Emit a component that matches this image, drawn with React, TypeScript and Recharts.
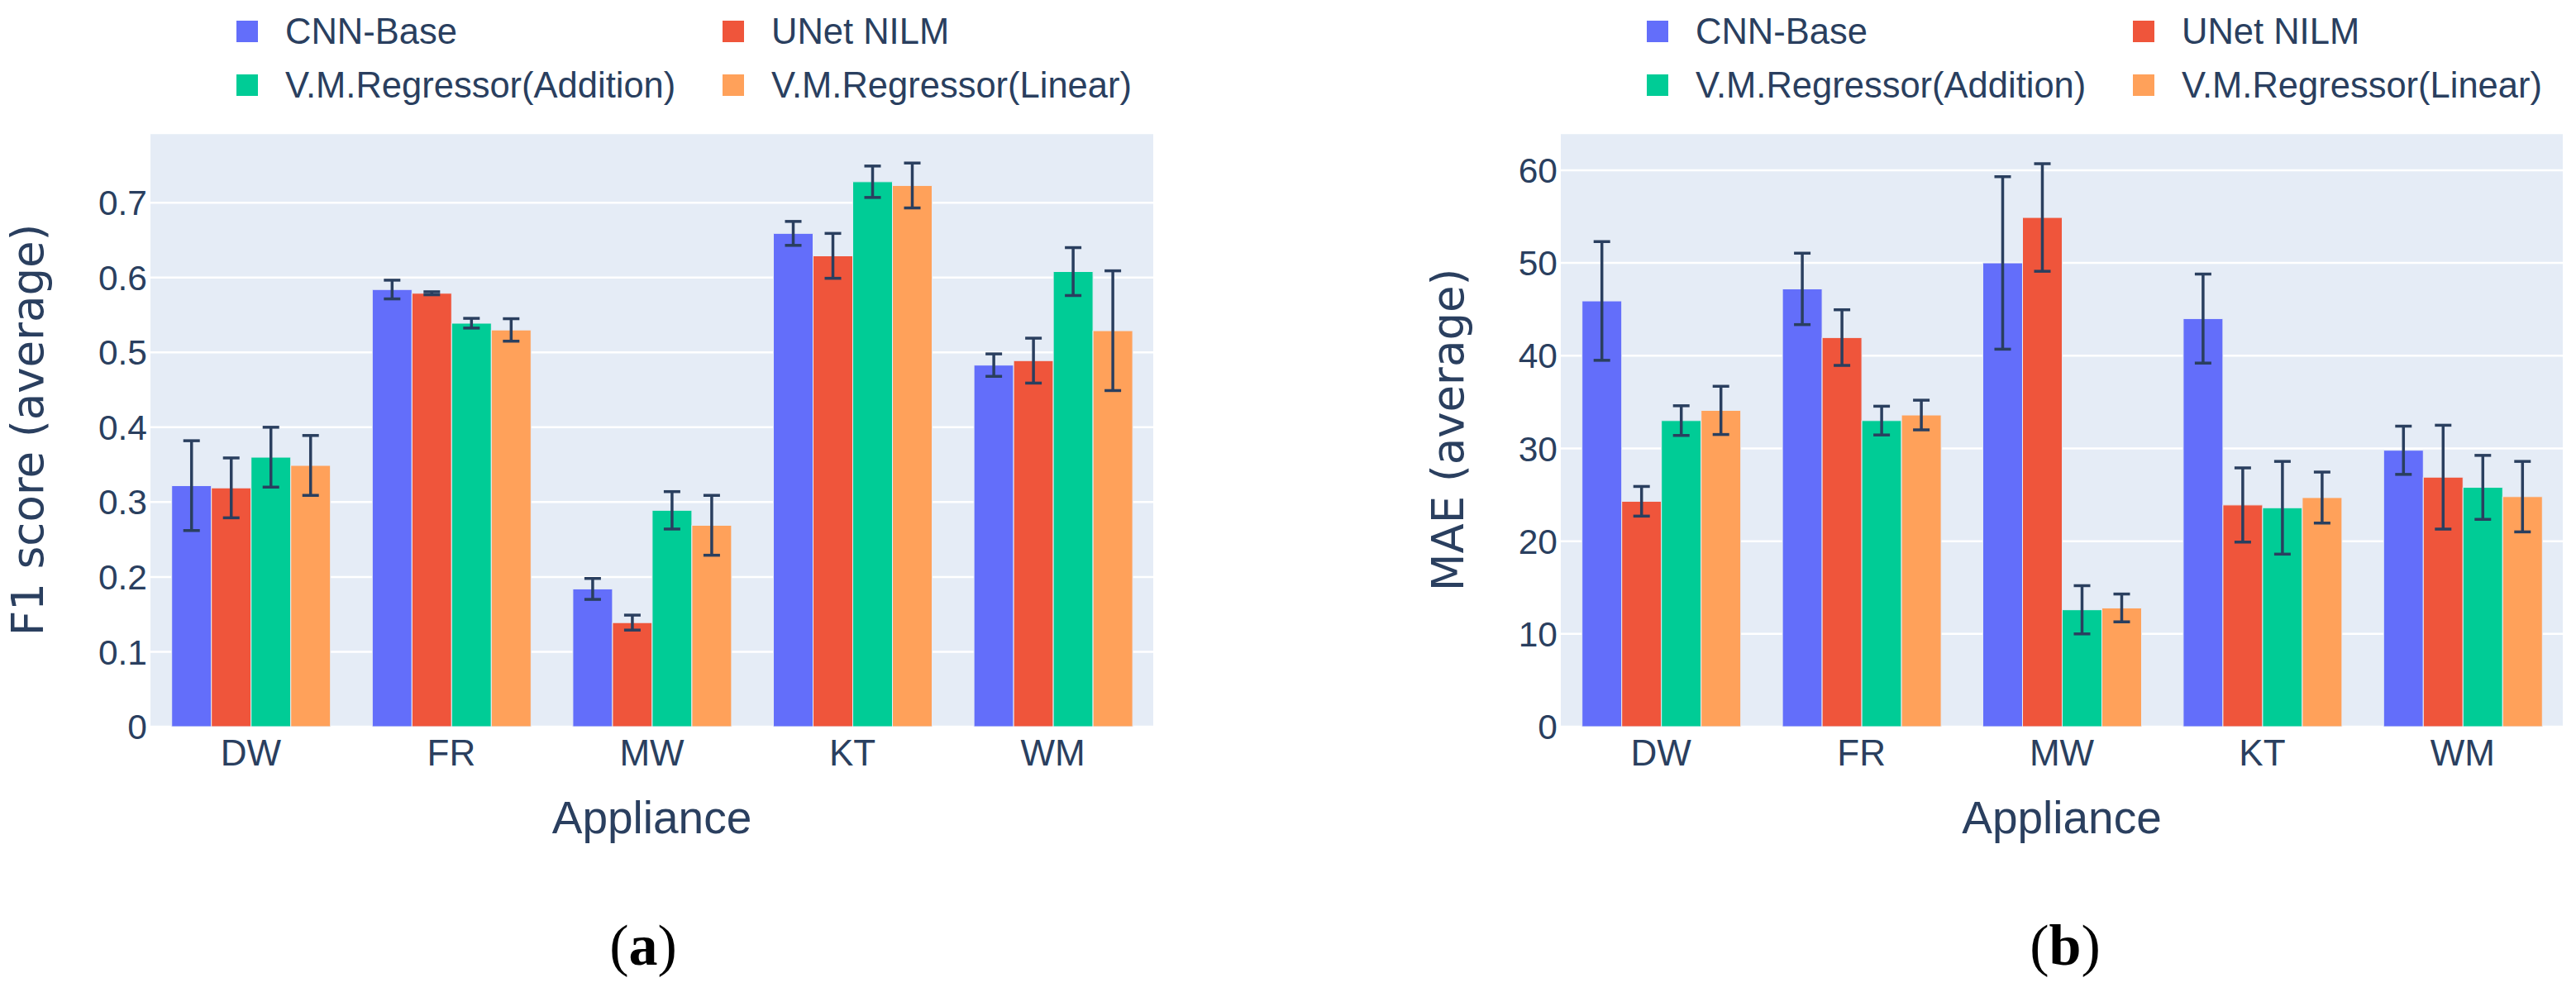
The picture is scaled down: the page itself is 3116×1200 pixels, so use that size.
import React from "react";
import { BarChart, Bar, XAxis, YAxis, CartesianGrid, ErrorBar, Legend } from "recharts";

const appliances = ["DW", "FR", "MW", "KT", "WM"];
const seriesNames = ["CNN-Base", "UNet NILM", "V.M.Regressor(Addition)", "V.M.Regressor(Linear)"];
const seriesColors = ["#636efa", "#ef553b", "#00cc96", "#ffa15a"];

// (a) F1 score
const cnnF1 = [0.322, 0.584, 0.184, 0.659, 0.483];
const cnnF1Err = [0.06, 0.0125, 0.014, 0.016, 0.015];
const unetF1 = [0.319, 0.579, 0.139, 0.629, 0.489];
const unetF1Err = [0.04, 0.002, 0.01, 0.03, 0.03];
const addF1 = [0.36, 0.539, 0.289, 0.728, 0.608];
const addF1Err = [0.04, 0.0065, 0.025, 0.021, 0.032];
const linF1 = [0.349, 0.53, 0.269, 0.723, 0.529];
const linF1Err = [0.04, 0.015, 0.04, 0.03, 0.08];
const f1Ticks = [0, 0.1, 0.2, 0.3, 0.4, 0.5, 0.6, 0.7];

// (b) MAE
const cnnMae = [45.9, 47.2, 50.0, 44.0, 29.8];
const cnnMaeErr = [6.4, 3.85, 9.3, 4.8, 2.6];
const unetMae = [24.3, 41.95, 54.9, 23.9, 26.9];
const unetMaeErr = [1.6, 3.0, 5.8, 4.0, 5.6];
const addMae = [33.0, 33.0, 12.6, 23.6, 25.8];
const addMaeErr = [1.6, 1.55, 2.6, 5.0, 3.45];
const linMae = [34.1, 33.6, 12.8, 24.7, 24.8];
const linMaeErr = [2.6, 1.6, 1.5, 2.75, 3.8];
const maeTicks = [0, 10, 20, 30, 40, 50, 60];

const TEXT = "#2a3f5f";
const SANS = "'Liberation Sans', Arial, sans-serif";

const buildRows = (vals: number[][], errs: number[][]) =>
  appliances.map((name, i) => {
    const row: any = { name };
    vals.forEach((v, s) => {
      row[`s${s}`] = v[i];
      row[`e${s}`] = errs[s][i];
    });
    return row;
  });

const f1Rows = buildRows([cnnF1, unetF1, addF1, linF1], [cnnF1Err, unetF1Err, addF1Err, linF1Err]);
const maeRows = buildRows([cnnMae, unetMae, addMae, linMae], [cnnMaeErr, unetMaeErr, addMaeErr, linMaeErr]);

const LegendGrid = ({ payload, left }: any) => (
  <div style={{ position: "relative", width: 1300, height: 140 }}>
    {(payload || []).map((p: any, i: number) => {
      const col = i % 2;
      const row = Math.floor(i / 2);
      return (
        <div
          key={p.value}
          style={{
            position: "absolute",
            left: left + col * 588,
            top: 38 + row * 64.5 - 22,
            height: 44,
            display: "flex",
            alignItems: "center",
            whiteSpace: "nowrap",
          }}
        >
          <span style={{ display: "inline-block", width: 26, height: 26, background: p.color }} />
          <span style={{ marginLeft: 33, fontSize: 43.5, lineHeight: "44px", color: TEXT, fontFamily: SANS }}>
            {p.value}
          </span>
        </div>
      );
    })}
  </div>
);

const YTitle = ({ viewBox, text, bx }: any) => {
  const cy = viewBox.y + viewBox.height / 2;
  return (
    <text
      x={bx}
      y={cy}
      transform={`rotate(-90, ${bx}, ${cy})`}
      textAnchor="middle"
      fill={TEXT}
      fontSize={53}
      fontFamily="'DejaVu Sans', Verdana, sans-serif"
    >
      {text}
    </text>
  );
};

const XTitle = ({ viewBox }: any) => (
  <text
    x={viewBox.x + viewBox.width / 2}
    y={viewBox.y + 129}
    textAnchor="middle"
    fill={TEXT}
    fontSize={55}
    fontFamily={SANS}
  >
    Appliance
  </text>
);

type PanelProps = {
  data: any[];
  left: number;
  width: number;
  axisWidth: number;
  rightMargin: number;
  domain: [number, number];
  ticks: number[];
  fmt: (v: number) => string;
  title: string;
  titleX: number;
  legendLeft: number;
};

const Panel = ({ data, left, width, axisWidth, rightMargin, domain, ticks, fmt, title, titleX, legendLeft }: PanelProps) => (
  <div style={{ position: "absolute", left, top: 0 }}>
    <BarChart
      width={width}
      height={1060}
      data={data}
      margin={{ top: 161, right: rightMargin, left: 0, bottom: 41 }}
      barCategoryGap="10.6%"
      barGap={0}
    >
      <CartesianGrid vertical={false} stroke="#ffffff" strokeWidth={2.5} fill="#e5ecf6" />
      <XAxis
        dataKey="name"
        height={140}
        axisLine={false}
        tickLine={false}
        tickSize={0}
        tickMargin={16}
        interval={0}
        tick={{ fontSize: 44, fill: TEXT, fontFamily: SANS }}
        label={<XTitle />}
      />
      <YAxis
        type="number"
        width={axisWidth}
        domain={domain}
        ticks={ticks}
        allowDataOverflow
        axisLine={false}
        tickLine={false}
        tickSize={0}
        tickMargin={4}
        tickFormatter={fmt}
        tick={{ fontSize: 42.5, fill: TEXT, fontFamily: SANS }}
        label={<YTitle text={title} bx={titleX} />}
      />
      <Legend
        layout="vertical"
        align="center"
        verticalAlign="middle"
        wrapperStyle={{ top: 0, left: 0, width: 1300, height: 140 }}
        content={(props: any) => <LegendGrid payload={props.payload} left={legendLeft} />}
      />
      {seriesNames.map((name, s) => (
        <Bar
          key={name}
          dataKey={`s${s}`}
          name={name}
          fill={seriesColors[s]}
          stroke="#e5ecf6"
          strokeWidth={1}
          isAnimationActive={false}
        >
          <ErrorBar
            dataKey={`e${s}`}
            direction="y"
            width={10}
            strokeWidth={3.5}
            stroke={TEXT}
            isAnimationActive={false}
          />
        </Bar>
      ))}
    </BarChart>
  </div>
);

const App = () => (
  <div style={{ position: "absolute", left: 0, top: 0, width: 3116, height: 1200, background: "#fff", overflow: "hidden" }}>
    <Panel
      data={f1Rows}
      left={0}
      width={1420}
      axisWidth={182}
      rightMargin={25}
      domain={[0, 0.793]}
      ticks={f1Ticks}
      fmt={(v) => (v === 0 ? "0" : v.toFixed(1))}
      title="F1 score (average)"
      titleX={52}
      legendLeft={286}
    />
    <Panel
      data={maeRows}
      left={1560}
      width={1556}
      axisWidth={328}
      rightMargin={16}
      domain={[0, 64]}
      ticks={maeTicks}
      fmt={(v) => String(v)}
      title="MAE (average)"
      titleX={210}
      legendLeft={432}
    />
    <svg width={3116} height={1200} style={{ position: "absolute", left: 0, top: 0, pointerEvents: "none" }}>
      <text x={778} y={1167} textAnchor="middle" fontSize={70} fontFamily="'Liberation Serif', 'Times New Roman', serif" fill="#000">
        (<tspan fontWeight="bold">a</tspan>)
      </text>
      <text x={2498} y={1167} textAnchor="middle" fontSize={70} fontFamily="'Liberation Serif', 'Times New Roman', serif" fill="#000">
        (<tspan fontWeight="bold">b</tspan>)
      </text>
    </svg>
  </div>
);

export default App;
